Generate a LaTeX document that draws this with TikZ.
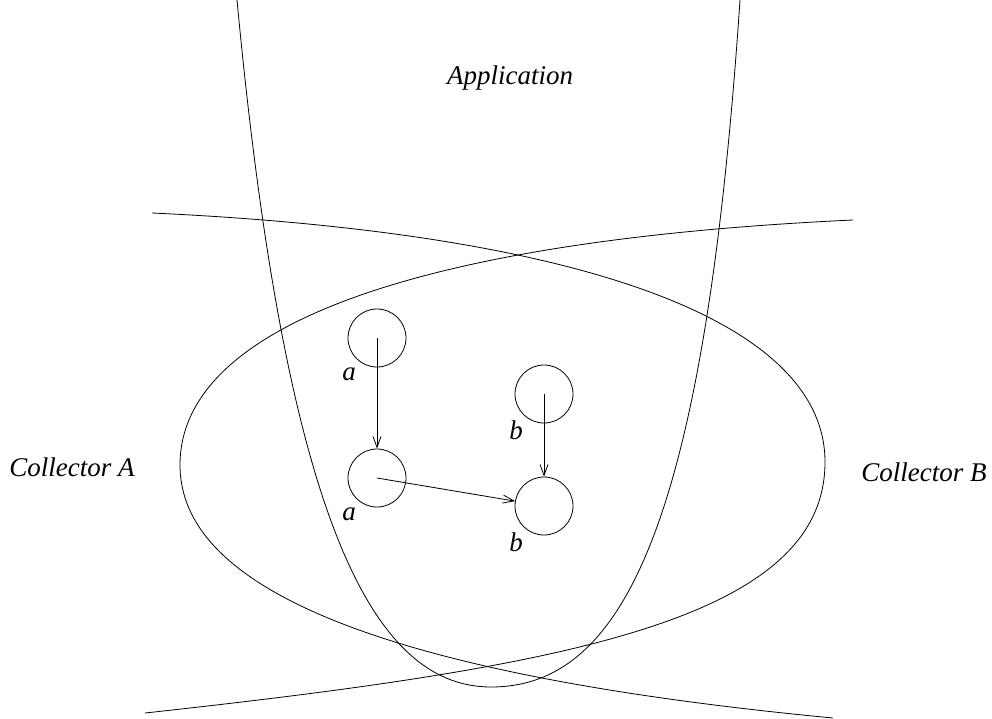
\documentclass[tikz,border=0pt]{standalone}
\usepackage{fontspec}
\setmainfont{Liberation Serif}
\usetikzlibrary{arrows.meta}

\begin{document}
\begin{tikzpicture}[x=1pt, y=-1pt, line width=0.8pt,
    obj/.style={circle, draw, minimum size=58pt, inner sep=0pt},
    lbl/.style={font=\itshape\fontsize{27}{30}\selectfont, inner sep=1pt},
    flow/.style={-{Straight Barb[length=11pt,width=8pt]}}]
        \useasboundingbox (0,0) rectangle (992,719);

        % Application boundary
        \draw (237,0) .. controls (284,500) and (366,687) .. (491,687)
                      .. controls (625,687) and (705,520) .. (740,0);

        % Collector A boundary
        \draw (152,213) .. controls (602,234) and (825,327) .. (825,462)
                        .. controls (825,620) and (565,667) .. (145,713);

        % Collector B boundary
        \draw (853,220) .. controls (403,241) and (180,330) .. (180,465)
                        .. controls (180,595) and (403,677) .. (833,718);

        \node[lbl] (app) at (510,78) {Application};
        \node[lbl, anchor=west] (colA) at (8,467) {Collector A};
        \node[lbl, anchor=west] (colB) at (860,472) {Collector B};

        % objects
        \node[obj] (a1) at (377,338) {};
        \node[obj] (a2) at (377,478) {};
        \node[obj] (b1) at (544,394) {};
        \node[obj] (b2) at (544,506) {};
        \foreach \o/\t in {a1/a, a2/a, b1/b, b2/b}
            \node[lbl] (l\o) at ([shift={(-28,36)}]\o.center) {\t};

        \draw[flow] (a1.center) -- (a2);
        \draw[flow] (a2.center) -- (b2);
        \draw[flow] (b1.center) -- (b2);
\end{tikzpicture}
\end{document}
